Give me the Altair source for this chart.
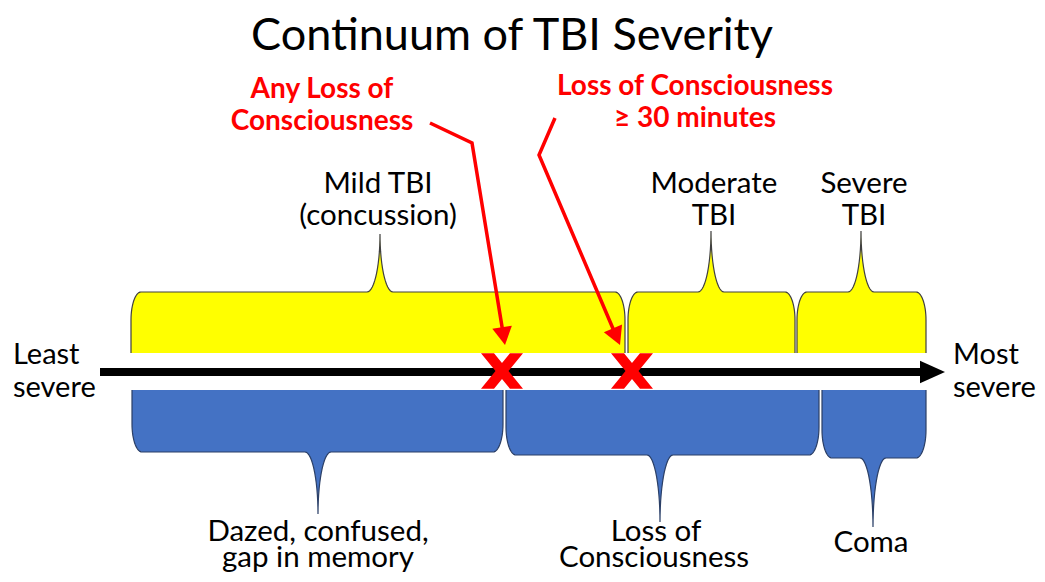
import altair as alt
import numpy as np
import pandas as pd

# ---------------- data ----------------
title_text = "Continuum of TBI Severity"

# upper braces: TBI severity classes (extent along the continuum, px)
sev_names = ["Mild TBI", "Moderate TBI", "Severe TBI"]
sev_start = [131, 628, 797]
sev_end = [625, 795, 926]
sev_peak = [380, 711, 861]
sev_tip = [234, 231, 231]

# lower braces: clinical signs
sym_names = ["Dazed", "LOC", "Coma"]
sym_start = [132, 506, 822]
sym_end = [503, 819, 926]
sym_peak = [318, 660, 873]
sym_flat = [452, 455, 458]
sym_tip = [514, 522, 527]

# thresholds marked with a red X on the continuum
mark_x = [502, 632]

# red callout arrows (polyline vertices)
arrow1_x = [430, 472, 505]
arrow1_y = [123, 143, 345]
arrow2_x = [555, 539, 620]
arrow2_y = [118, 155, 345]

# labels
red_lines = ["Any Loss of", "Consciousness", "Loss of Consciousness", "\u2265 30 minutes"]
red_x = [322, 322, 695, 695]
red_y = [98, 130, 95, 127]

black_lines = ["Mild TBI", "(concussion)", "Moderate", "TBI", "Severe", "TBI",
               "Dazed, confused,", "gap in memory", "Loss of", "Consciousness", "Coma"]
black_x = [378, 378, 714, 714, 864, 864, 318, 318, 656, 654, 871]
black_y = [193, 225, 193, 225, 193, 225, 541, 567, 541, 567, 552]

side_lines = ["Least", "severe", "Most", "severe"]
side_x = [13, 13, 953, 953]
side_y = [364, 397, 364, 397]

# ---------------- layout constants ----------------
YEL_BASE, YEL_FLAT = 353, 292
BLU_BASE = 390
AXIS_Y = 372
AXIS_X0, AXIS_X1 = 100, 922
FONT = "Lato"

xs = alt.Scale(domain=[8, 1037], nice=False, zero=False)
ys = alt.Scale(domain=[8, 574], nice=False, zero=False, reverse=True)


def brace(name, x0, x1, xp, ybase, yflat, ytip, rx=10.0, ry=28.0, pw=13.0, n=16):
    d = -1.0 if yflat < ybase else 1.0
    pts = [(x0, ybase)]
    t = np.linspace(0, np.pi / 2, n)
    # left rounded corner
    for a in t:
        pts.append((x0 + rx * (1 - np.cos(a)), yflat - d * ry * (1 - np.sin(a))))
    # left half of the point
    for a in t:
        pts.append((xp - pw + pw * np.sin(a), yflat + (ytip - yflat) * (1 - np.cos(a))))
    for a in t[::-1][1:]:
        pts.append((xp + pw - pw * np.sin(a), yflat + (ytip - yflat) * (1 - np.cos(a))))
    for a in t[::-1]:
        pts.append((x1 - rx * (1 - np.cos(a)), yflat - d * ry * (1 - np.sin(a))))
    pts.append((x1, ybase))
    rows = []
    for i, (px, py) in enumerate(pts):
        rows.append({"seg": name, "i": i, "x": px, "y": py, "base": ybase})
    return rows


yel_rows = []
for nm, a, b, p, tp in zip(sev_names, sev_start, sev_end, sev_peak, sev_tip):
    yel_rows += brace(nm, a, b, p, YEL_BASE, YEL_FLAT, tp)
yel = pd.DataFrame(yel_rows)

blu_rows = []
for nm, a, b, p, fl, tp in zip(sym_names, sym_start, sym_end, sym_peak, sym_flat, sym_tip):
    blu_rows += brace(nm, a, b, p, BLU_BASE, fl, tp)
blu = pd.DataFrame(blu_rows)


def fill_layer(df, color):
    inner = df[(df["i"] > 0) & (df["i"] < df.groupby("seg")["i"].transform("max"))]
    return alt.Chart(inner).mark_area(color=color, opacity=1, interpolate="linear").encode(
        x=alt.X("x:Q", scale=xs, axis=None),
        y=alt.Y("y:Q", scale=ys, axis=None, stack=None),
        y2="base:Q",
        detail="seg:N",
    )


def outline_layer(df, color):
    return alt.Chart(df).mark_line(color=color, strokeWidth=1.2).encode(
        x=alt.X("x:Q", scale=xs, axis=None),
        y=alt.Y("y:Q", scale=ys, axis=None),
        detail="seg:N",
        order="i:Q",
    )


# main arrow
axis_df = pd.DataFrame({"x0": [AXIS_X0], "x1": [AXIS_X1], "y": [AXIS_Y]})
axis_line = alt.Chart(axis_df).mark_rule(color="black", strokeWidth=8).encode(
    x=alt.X("x0:Q", scale=xs, axis=None), x2="x1:Q", y=alt.Y("y:Q", scale=ys, axis=None)
)
head_df = pd.DataFrame({"x": [932.5], "y": [AXIS_Y]})
axis_head = alt.Chart(head_df).mark_point(
    shape="M-1,-0.9 L1,0 L-1,0.9 Z", filled=True, color="black", opacity=1, size=625
).encode(x=alt.X("x:Q", scale=xs, axis=None), y=alt.Y("y:Q", scale=ys, axis=None))

# red X marks
x_shape = ("M-1,-0.85 L-0.38,-0.85 L0,-0.382 L0.38,-0.85 L1,-0.85 L0.31,0 "
           "L1,0.85 L0.38,0.85 L0,0.382 L-0.38,0.85 L-1,0.85 L-0.31,0 Z")
xm_df = pd.DataFrame({"x": mark_x, "y": [AXIS_Y - 1] * len(mark_x)})
x_marks = alt.Chart(xm_df).mark_point(
    shape=x_shape, filled=True, color="#FF0000", opacity=1, size=1764
).encode(x=alt.X("x:Q", scale=xs, axis=None), y=alt.Y("y:Q", scale=ys, axis=None))

# red callout arrows
arr_rows, head_rows = [], []
for k, (ax, ay) in enumerate([(arrow1_x, arrow1_y), (arrow2_x, arrow2_y)]):
    dx, dy = ax[-1] - ax[-2], ay[-1] - ay[-2]
    ln = float(np.hypot(dx, dy))
    for i in range(len(ax)):
        px, py = ax[i], ay[i]
        if i == len(ax) - 1:
            px, py = ax[i] - 12 * dx / ln, ay[i] - 12 * dy / ln
        arr_rows.append({"a": k, "i": i, "x": px, "y": py})
    ang = float(np.degrees(np.arctan2(-dx, dy))) % 360
    head_rows.append({"x": ax[-1], "y": ay[-1], "ang": ang})
arr_df = pd.DataFrame(arr_rows)
arr_lines = alt.Chart(arr_df).mark_line(color="#FF0000", strokeWidth=3.5).encode(
    x=alt.X("x:Q", scale=xs, axis=None),
    y=alt.Y("y:Q", scale=ys, axis=None),
    detail="a:N",
    order="i:Q",
)
arr_heads = alt.Chart(pd.DataFrame(head_rows)).mark_point(
    shape="M0,0 L-0.55,-1 L0.55,-1 Z", filled=True, color="#FF0000", opacity=1, size=1296
).encode(
    x=alt.X("x:Q", scale=xs, axis=None),
    y=alt.Y("y:Q", scale=ys, axis=None),
    angle=alt.Angle("ang:Q", scale=None),
)

# texts
title = alt.Chart(pd.DataFrame({"t": [title_text], "x": [512], "y": [50]})).mark_text(
    font=FONT, fontSize=45, color="black", align="center", baseline="alphabetic"
).encode(x=alt.X("x:Q", scale=xs, axis=None), y=alt.Y("y:Q", scale=ys, axis=None), text="t:N")

red_txt = alt.Chart(pd.DataFrame({"t": red_lines, "x": red_x, "y": red_y})).mark_text(
    font=FONT, fontSize=28, fontWeight="bold", color="#FF0000", align="center", baseline="alphabetic"
).encode(x=alt.X("x:Q", scale=xs, axis=None), y=alt.Y("y:Q", scale=ys, axis=None), text="t:N")

blk_txt = alt.Chart(pd.DataFrame({"t": black_lines, "x": black_x, "y": black_y})).mark_text(
    font=FONT, fontSize=29.5, color="black", align="center", baseline="alphabetic"
).encode(x=alt.X("x:Q", scale=xs, axis=None), y=alt.Y("y:Q", scale=ys, axis=None), text="t:N")

side_txt = alt.Chart(pd.DataFrame({"t": side_lines, "x": side_x, "y": side_y})).mark_text(
    font=FONT, fontSize=29, color="black", align="left", baseline="alphabetic"
).encode(x=alt.X("x:Q", scale=xs, axis=None), y=alt.Y("y:Q", scale=ys, axis=None), text="t:N")

chart = alt.layer(
    fill_layer(yel, "#FFFF00"),
    outline_layer(yel, "#404040"),
    fill_layer(blu, "#4472C4"),
    outline_layer(blu, "#2B3F66"),
    axis_line,
    axis_head,
    x_marks,
    arr_lines,
    arr_heads,
    title,
    red_txt,
    blk_txt,
    side_txt,
).properties(
    width=1029, height=566, padding=0, autosize=alt.AutoSizeParams(type="none"),
    background="white",
).configure_view(stroke=None)

chart.save("out.html", embed_options={"renderer": "svg", "actions": False})
